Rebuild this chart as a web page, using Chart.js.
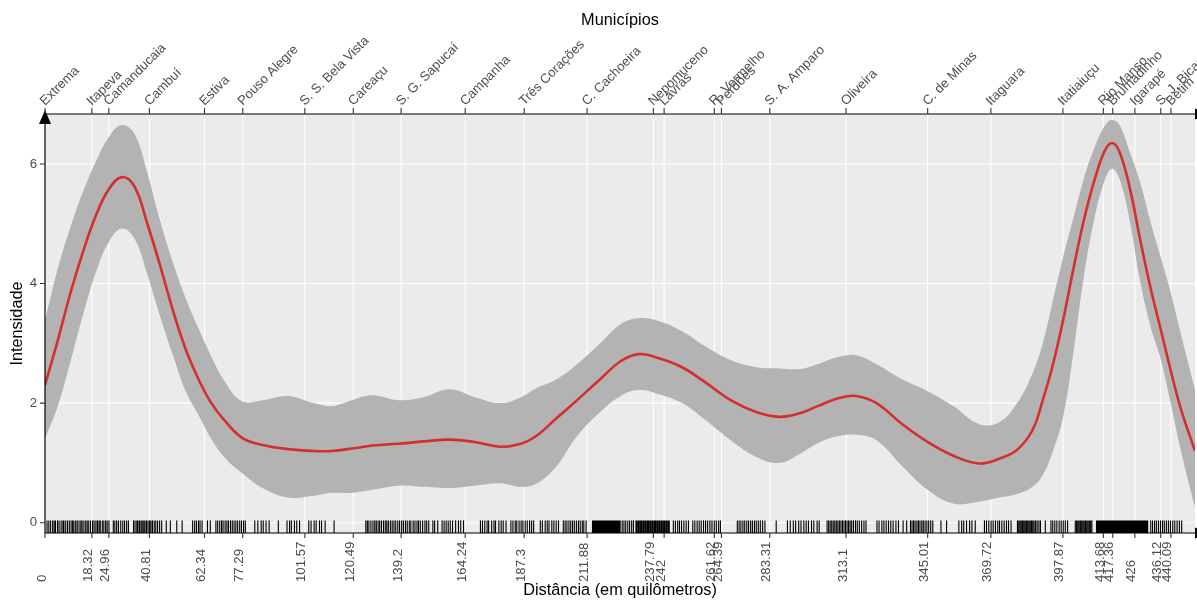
<!DOCTYPE html>
<html lang="pt-BR">
<head>
<meta charset="utf-8">
<title>Intensidade ao longo da rodovia</title>
<script src="https://cdn.jsdelivr.net/npm/chart.js@4.4.1/dist/chart.umd.min.js"></script>
<style>
  html, body { margin: 0; padding: 0; background: #fff; }
  canvas { display: block; }
</style>
</head>
<body>
<canvas id="grafico" width="1197" height="600"></canvas>
<script>
// municípios ao longo do trajeto e a distância (km) de cada um
const municipios = ['Extrema', 'Itapeva', 'Camanducaia', 'Cambuí', 'Estiva', 'Pouso Alegre',
  'S. S. Bela Vista', 'Careaçu', 'S. G. Sapucaí', 'Campanha', 'Três Corações', 'C. Cachoeira',
  'Nepomuceno', 'Lavras', 'R. Vermelho', 'Perdões', 'S. A. Amparo', 'Oliveira', 'C. de Minas',
  'Itaguara', 'Itatiaiuçu', 'Rio Manso', 'Brumadinho', 'Igarapé', 'S. J. Bicas', 'Betim'];
const distancias = [0, 18.32, 24.96, 40.81, 62.34, 77.29, 101.57, 120.49, 139.2, 164.24, 187.3,
  211.88, 237.79, 242, 261.62, 264.39, 283.31, 313.1, 345.01, 369.72, 397.87, 413.68, 417.36,
  426, 436.12, 440.09];
const rotulosDistancia = ['0', '18.32', '24.96', '40.81', '62.34', '77.29', '101.57', '120.49',
  '139.2', '164.24', '187.3', '211.88', '237.79', '242', '261.62', '264.39', '283.31', '313.1',
  '345.01', '369.72', '397.87', '413.68', '417.36', '426', '436.12', '440.09'];
const ticksY = [0, 2, 4, 6];
const rotulosY = ['0', '2', '4', '6'];

// curva suavizada e faixa de confiança
const km = [0, 5, 10, 15, 20, 25, 30, 35, 40, 45, 50, 55, 60, 65, 70, 77, 85, 95, 105, 112, 120,
  128, 138, 148, 158, 168, 178, 186, 192, 200, 208, 217, 225, 232, 240, 249, 258, 268, 278, 287,
  295, 302, 310, 317, 325, 335, 345, 355, 365, 373, 380, 386, 390, 394, 398, 402, 406, 410, 414,
  417, 420, 424, 428, 432, 436, 440, 444, 449.5];
const intensidade = [2.30, 3.05, 3.85, 4.55, 5.15, 5.58, 5.78, 5.62, 5.00, 4.30, 3.55, 2.90, 2.40,
  2.00, 1.72, 1.42, 1.30, 1.23, 1.20, 1.20, 1.24, 1.29, 1.32, 1.36, 1.39, 1.35, 1.27, 1.32, 1.45,
  1.75, 2.05, 2.40, 2.70, 2.82, 2.75, 2.60, 2.35, 2.05, 1.85, 1.77, 1.83, 1.95, 2.08, 2.12, 2.00,
  1.65, 1.35, 1.12, 0.99, 1.07, 1.22, 1.55, 2.05, 2.65, 3.40, 4.25, 5.05, 5.70, 6.20, 6.35, 6.20,
  5.60, 4.75, 3.95, 3.25, 2.55, 1.90, 1.20];
const limiteSuperior = [3.38, 4.25, 4.95, 5.55, 6.05, 6.45, 6.65, 6.50, 5.85, 5.05, 4.35, 3.75,
  3.25, 2.78, 2.38, 2.03, 2.05, 2.12, 2.00, 1.95, 2.05, 2.13, 2.05, 2.10, 2.23, 2.10, 2.00, 2.10,
  2.25, 2.40, 2.65, 3.00, 3.32, 3.42, 3.37, 3.20, 2.95, 2.72, 2.60, 2.58, 2.57, 2.65, 2.77, 2.80,
  2.65, 2.40, 2.20, 1.95, 1.65, 1.68, 2.00, 2.50, 3.00, 3.72, 4.45, 5.10, 5.75, 6.25, 6.62, 6.74,
  6.65, 6.20, 5.70, 5.05, 4.45, 3.85, 3.15, 2.22];
const limiteInferior = [1.40, 1.95, 2.70, 3.50, 4.20, 4.70, 4.92, 4.75, 4.15, 3.45, 2.80, 2.20,
  1.80, 1.40, 1.10, 0.83, 0.58, 0.42, 0.45, 0.50, 0.50, 0.55, 0.62, 0.60, 0.58, 0.62, 0.66, 0.60,
  0.65, 0.95, 1.45, 1.85, 2.12, 2.22, 2.15, 2.00, 1.72, 1.38, 1.10, 1.00, 1.15, 1.33, 1.45, 1.47,
  1.38, 0.95, 0.55, 0.32, 0.35, 0.42, 0.48, 0.60, 0.80, 1.20, 1.78, 2.85, 4.10, 5.05, 5.70, 5.92,
  5.75, 5.05, 4.05, 3.30, 2.75, 2.00, 1.20, 0.25];

// posição (km) de cada ocorrência, mostrada como "rug" no eixo x
const ocorrenciasKm = [
  0.8, 1.5, 2.2, 3.0, 3.6, 4.1, 4.9, 5.5, 6.3, 7.0, 7.4, 8.1, 8.8, 9.5, 10.2, 10.8, 11.3, 12.0,
  12.6, 13.3, 14.0, 14.5, 15.2, 15.9, 16.5, 17.1, 17.8, 18.6, 19.2, 19.9, 20.5, 21.1, 21.6, 22.4,
  23.0, 23.7, 24.3, 25.0, 26.7, 27.3, 28.0, 28.7, 29.6, 30.4, 31.1, 31.9, 32.6,
  34.6, 35.2, 35.9, 36.3, 36.9, 37.5, 38.0, 38.6, 39.1, 39.7, 40.3, 40.9, 41.4, 42.0, 42.7, 43.3,
  44.0, 44.8, 45.6, 47.4, 49.0, 51.5, 53.6,
  57.7, 58.5, 59.2, 60.0, 60.6, 61.4, 63.5, 64.6,
  66.8, 67.5, 68.3, 69.0, 69.6, 70.4, 71.1, 71.7, 72.5, 73.2, 73.9, 74.6, 75.3, 76.1, 76.8, 77.6, 78.3,
  82.0, 83.2, 84.5, 85.3, 86.4, 87.6, 91.2, 94.6, 95.6, 96.3, 97.5, 98.4, 99.5,
  103.1, 104.0, 105.2, 106.0, 107.3, 108.1, 109.5, 113.0,
  125.4, 126.0, 126.6, 127.4, 128.2, 128.9, 129.5, 130.2, 130.8, 131.5, 132.3, 133.0, 133.6, 134.2,
  135.0, 135.7, 136.4, 137.1, 137.9, 138.6, 139.4, 140.1, 140.9, 141.6, 142.4, 143.0, 143.9, 144.6,
  145.4, 146.0, 146.7, 147.6, 148.5, 149.2, 150.0, 151.6, 152.3, 153.5, 155.2, 156.0, 156.8, 157.6,
  158.4, 159.3, 160.5, 161.6, 162.5, 163.6,
  170.2, 171.0, 171.9, 172.8, 173.4, 174.6, 175.5, 176.1, 177.4, 178.3, 179.1, 180.2,
  182.1, 182.9, 183.8, 184.4, 185.3, 186.1, 186.8, 187.7, 188.5, 189.4, 190.2, 191.0,
  193.6, 194.4, 195.5, 196.3, 197.0, 198.1, 198.9, 199.8, 200.7,
  202.6, 203.3, 204.0, 204.8, 205.5, 206.2, 206.9, 207.7, 208.5, 209.2, 210.0, 210.6, 211.5,
  214.0, 214.4, 214.8, 215.2, 215.6, 216.0, 216.4, 216.8, 217.2, 217.6, 218.0, 218.4, 218.8, 219.2,
  219.6, 220.0, 220.4, 220.8, 221.2, 221.6, 222.0, 222.4, 222.8, 223.2, 223.6, 224.0, 224.4, 224.8,
  225.6, 226.3, 227.0, 227.8, 228.5, 229.3, 230.0,
  231.0, 231.4, 231.9, 232.3, 232.8, 233.2, 233.7, 234.1, 234.6, 235.0, 235.5, 235.9, 236.4, 236.8,
  237.3, 237.7, 238.2, 238.6, 239.1, 239.5, 240.0, 240.4, 240.9, 241.3, 241.8, 242.2, 242.7, 243.1,
  243.6, 244.0,
  245.6, 246.4, 247.3, 248.0, 248.8, 249.7, 250.6, 251.5,
  253.2, 254.0, 254.9, 255.7, 256.5, 257.4, 258.2, 259.0, 259.9, 260.7, 261.6, 262.4, 263.3, 264.0,
  270.6, 271.3, 272.0, 272.8, 273.5, 274.3, 275.0, 275.8, 276.5, 277.3, 278.0, 278.8, 279.6, 280.5,
  281.4, 285.8, 290.2, 291.3, 292.5, 293.4, 294.6,
  295.5, 296.6, 297.5, 298.4, 299.6, 300.5, 301.8, 302.6,
  305.7, 306.3, 306.9, 307.5, 308.1, 308.7, 309.3, 309.9, 310.5, 311.1, 311.7, 312.3, 312.9, 313.5,
  314.1, 314.7, 315.3, 316.0, 316.8, 317.5, 318.3, 319.2, 320.1, 320.9,
  325.2, 326.0, 327.1, 327.9, 328.8, 329.7, 330.6, 331.5, 332.6, 333.6, 335.4, 336.8,
  338.3, 338.9, 339.5, 340.1, 340.8, 341.4, 342.0, 342.7, 343.3, 344.0, 344.7, 345.4, 346.2, 347.0,
  350.2, 352.4, 357.2, 358.3, 359.1, 360.2, 361.4, 362.3, 363.6,
  367.2, 368.0, 368.9, 369.8, 370.6, 371.5, 372.4, 373.1, 374.0, 374.9, 375.8, 376.6, 377.6,
  380.1, 380.6, 381.1, 381.6, 382.1, 382.6, 383.1, 383.6, 384.1, 384.6, 385.1, 385.6, 386.1, 386.6,
  387.2, 387.8, 388.5, 389.1, 391.0,
  393.2, 393.9, 394.7, 395.5, 396.4, 397.2, 398.0, 398.8, 399.7,
  402.7, 403.2, 403.7, 404.2, 404.7, 405.2, 405.7, 406.2, 406.7, 407.2, 407.7, 408.2, 408.7, 409.2,
  411.0, 411.4, 411.8, 412.2, 412.6, 413.0, 413.4, 413.8, 414.2, 414.6, 415.0, 415.4, 415.8, 416.2,
  416.6, 417.0, 417.4, 417.8, 418.2, 418.6, 419.0, 419.4, 419.8, 420.2, 420.6, 421.0, 421.4, 421.8,
  422.2, 422.6, 423.0, 423.4, 423.8, 424.2, 424.6, 425.0, 425.4, 425.8, 426.2, 426.6, 427.0, 427.4,
  427.8, 428.2, 428.6, 429.0, 429.4, 429.8, 430.2, 430.6, 431.0,
  432.2, 432.9, 433.7, 434.4, 435.2, 436.0, 436.8, 437.5, 438.3, 439.1, 439.9, 440.8, 441.6, 442.5,
  443.4, 444.3
];

const FONTE = '"Liberation Sans", Arial, Helvetica, sans-serif';
const pares = (xs, ys) => xs.map((v, i) => ({ x: v, y: ys[i] }));

function seta(ctx, x1, y1, x2, y2, meia) {
  // triângulo cheio apontando de (x1,y1) para (x2,y2)
  const ang = Math.atan2(y2 - y1, x2 - x1);
  ctx.beginPath();
  ctx.moveTo(x2, y2);
  ctx.lineTo(x1 - Math.sin(ang) * meia, y1 + Math.cos(ang) * meia);
  ctx.lineTo(x1 + Math.sin(ang) * meia, y1 - Math.cos(ang) * meia);
  ctx.closePath();
  ctx.fill();
}

// painel cinza, grade, rug, eixos e textos no estilo ggplot
const estiloGgplot = {
  id: 'estiloGgplot',
  beforeDraw(chart) {
    const { ctx, chartArea: a, scales: { x, y } } = chart;
    ctx.save();
    ctx.fillStyle = '#EBEBEB';
    ctx.fillRect(a.left, a.top, a.right - a.left, a.bottom - a.top);
    ctx.strokeStyle = '#FFFFFF';
    ctx.lineWidth = 1.1;
    ctx.beginPath();
    distancias.forEach(d => {
      const px = x.getPixelForValue(d);
      ctx.moveTo(px, a.top);
      ctx.lineTo(px, a.bottom);
    });
    ticksY.forEach(v => {
      const py = y.getPixelForValue(v);
      ctx.moveTo(a.left, py);
      ctx.lineTo(a.right, py);
    });
    ctx.stroke();
    ctx.restore();
  },
  afterDatasetsDraw(chart) {
    const { ctx, chartArea: a, scales: { x, y } } = chart;
    ctx.save();

    // rug
    const comp = 0.03 * (a.bottom - a.top);
    ctx.strokeStyle = '#000';
    ctx.lineWidth = 1.1;
    ctx.beginPath();
    ocorrenciasKm.forEach(v => {
      const px = x.getPixelForValue(v);
      ctx.moveTo(px, a.bottom);
      ctx.lineTo(px, a.bottom - comp);
    });
    ctx.stroke();

    // linhas dos eixos
    ctx.strokeStyle = '#000';
    ctx.fillStyle = '#000';
    ctx.lineWidth = 1.2;
    ctx.beginPath();
    ctx.moveTo(a.left, a.bottom); ctx.lineTo(a.right, a.bottom);
    ctx.moveTo(a.left, a.top); ctx.lineTo(a.right, a.top);
    ctx.moveTo(a.left, a.bottom); ctx.lineTo(a.left, a.top);
    ctx.stroke();
    seta(ctx, a.left, a.top + 10, a.left, a.top - 4, 6);
    seta(ctx, a.right, a.bottom, a.right + 14, a.bottom, 5.5);
    seta(ctx, a.right, a.top, a.right + 14, a.top, 5.5);

    // marcas
    ctx.strokeStyle = '#333';
    ctx.lineWidth = 1.1;
    ctx.beginPath();
    distancias.forEach(d => {
      const px = x.getPixelForValue(d);
      ctx.moveTo(px, a.bottom); ctx.lineTo(px, a.bottom + 5);
      ctx.moveTo(px, a.top); ctx.lineTo(px, a.top - 6);
    });
    ticksY.forEach(v => {
      const py = y.getPixelForValue(v);
      ctx.moveTo(a.left - 5, py); ctx.lineTo(a.left, py);
    });
    ctx.stroke();

    // rótulos dos eixos
    ctx.fillStyle = '#4D4D4D';
    ctx.font = '13.2px ' + FONTE;
    ctx.textAlign = 'right';
    ctx.textBaseline = 'middle';
    ticksY.forEach((v, i) => ctx.fillText(rotulosY[i], a.left - 8, y.getPixelForValue(v)));

    ctx.textAlign = 'left';
    ctx.textBaseline = 'alphabetic';
    distancias.forEach((d, i) => {
      const px = x.getPixelForValue(d);
      ctx.save();
      ctx.translate(px + 0.5, 582);
      ctx.rotate(-Math.PI / 2);
      ctx.fillText(rotulosDistancia[i], 0, 0);
      ctx.restore();

      ctx.save();
      ctx.translate(px, a.top - 8);
      ctx.rotate(-Math.PI / 4);
      ctx.fillText(municipios[i], 0, 0);
      ctx.restore();
    });

    // títulos
    ctx.fillStyle = '#000';
    ctx.font = '16.3px ' + FONTE;
    ctx.textAlign = 'center';
    ctx.textBaseline = 'middle';
    const cx = (a.left + a.right) / 2;
    ctx.fillText('Municípios', cx, 21);
    ctx.fillText('Distância (em quilômetros)', cx, 591);
    ctx.save();
    ctx.translate(17.5, (a.top + a.bottom) / 2);
    ctx.rotate(-Math.PI / 2);
    ctx.fillText('Intensidade', 0, 0);
    ctx.restore();

    ctx.restore();
  }
};

new Chart(document.getElementById('grafico'), {
  type: 'line',
  data: {
    datasets: [
      {
        label: 'Intensidade',
        data: pares(km, intensidade),
        borderColor: '#D42E2E',
        borderWidth: 2.6,
        pointRadius: 0,
        fill: false,
        tension: 0.4
      },
      {
        label: 'Limite superior',
        data: pares(km, limiteSuperior),
        borderColor: 'rgba(0,0,0,0)',
        borderWidth: 0,
        backgroundColor: '#B3B3B3',
        pointRadius: 0,
        fill: '+1',
        tension: 0.4
      },
      {
        label: 'Limite inferior',
        data: pares(km, limiteInferior),
        borderColor: 'rgba(0,0,0,0)',
        borderWidth: 0,
        pointRadius: 0,
        fill: false,
        tension: 0.4
      }
    ]
  },
  options: {
    responsive: false,
    animation: false,
    devicePixelRatio: 1,
    layout: { padding: { left: 45, right: 2, top: 114, bottom: 67 } },
    plugins: { legend: { display: false }, tooltip: { enabled: false } },
    scales: {
      x: { type: 'linear', min: 0, max: 449.5, display: false },
      y: { type: 'linear', min: -0.172, max: 6.835, display: false }
    }
  },
  plugins: [estiloGgplot]
});
</script>
</body>
</html>
